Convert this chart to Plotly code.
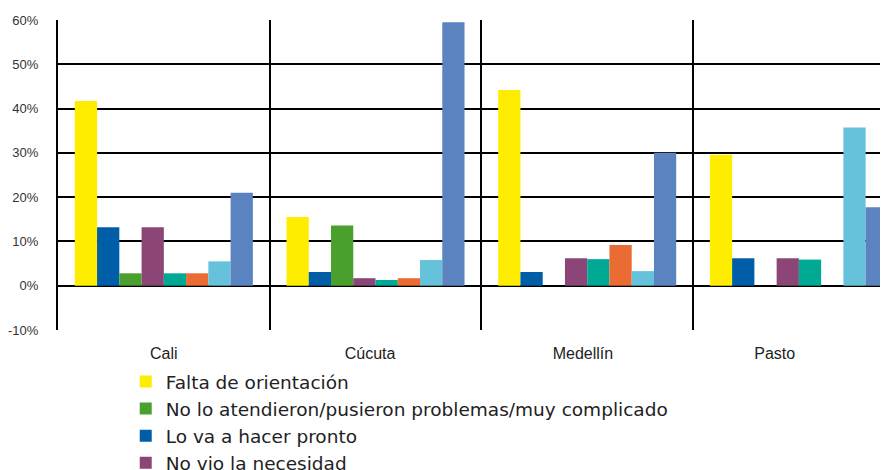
import plotly.graph_objects as go

categories = ["Cali", "Cúcuta", "Medellín", "Pasto"]

series_names = [
    "Falta de orientación",
    "Lo va a hacer pronto",
    "No lo atendieron/pusieron problemas/muy complicado",
    "No vio la necesidad",
    "Serie 5",
    "Serie 6",
    "Serie 7",
    "Serie 8",
]
series_colors = ["#FFED00", "#005EA8", "#4AA02C", "#8B4577",
                 "#00A994", "#EB6B35", "#66C2DB", "#5A83C0"]
legend_rank = [1, 3, 2, 4, 5, 6, 7, 8]
show_in_legend = [True, True, True, True, False, False, False, False]

values = [
    [41.7, 15.5, 44.2, 29.6],   # Falta de orientación
    [13.2, 3.1, 3.1, 6.2],      # Lo va a hacer pronto
    [2.8, 13.6, 0.0, 0.0],      # No lo atendieron...
    [13.2, 1.7, 6.2, 6.2],      # No vio la necesidad
    [2.8, 1.3, 6.0, 5.9],
    [2.8, 1.7, 9.2, 0.0],
    [5.5, 5.8, 3.3, 35.7],
    [21.0, 59.5, 30.0, 17.7],
]

y_ticks = [-10, 0, 10, 20, 30, 40, 50, 60]
y_ticktext = ["-10%", "0%", "10%", "20%", "30%", "40%", "50%", "60%"]

x_pos = list(range(len(categories)))
label_pos = [0.0, 0.974, 1.98, 2.886]
boundaries = [i - 0.5 for i in range(len(categories))]

fig = go.Figure()
for name, color, vals, rank, show in zip(series_names, series_colors, values,
                                         legend_rank, show_in_legend):
    fig.add_trace(go.Bar(
        x=x_pos, y=vals, name=name, marker=dict(color=color, line=dict(width=0)),
        legendrank=rank, showlegend=show, hoverinfo="skip",
    ))

fig.update_layout(
    width=880, height=462,
    margin=dict(l=50, r=0, t=12, b=140, autoexpand=False),
    paper_bgcolor="white", plot_bgcolor="white",
    barmode="group", bargap=0.159, bargroupgap=0.0,
    font=dict(family="Liberation Sans, Arial, sans-serif", color="#222222"),
    legend=dict(
        xref="paper", yref="container",
        x=0.0816, y=0.2316, xanchor="left", yanchor="top",
        orientation="v",
        font=dict(family="DejaVu Sans, sans-serif", size=18.5, color="#222222"),
        bgcolor="rgba(0,0,0,0)", borderwidth=0,
        traceorder="normal",
    ),
)

fig.update_xaxes(
    automargin=False,
    range=[-0.5, 3.421],
    tickmode="array", tickvals=label_pos, ticktext=categories,
    showgrid=False, zeroline=False, showline=False,
    ticks="", ticklabelstandoff=12,
    tickfont=dict(size=16, color="#222222"),
    minor=dict(tickmode="array", tickvals=boundaries, showgrid=True,
               gridcolor="black", gridwidth=2, ticks=""),
)

fig.update_yaxes(
    automargin=False,
    range=[-10, 60],
    tickmode="array", tickvals=y_ticks, ticktext=y_ticktext,
    showgrid=True, gridcolor="black", gridwidth=2,
    zeroline=True, zerolinecolor="black", zerolinewidth=2,
    showline=True, linecolor="black", linewidth=2,
    ticks="", ticklabelstandoff=15,
    tickfont=dict(family="Liberation Sans, Arial, sans-serif", size=13, color="#333333"),
)

fig.write_html("out.html")
